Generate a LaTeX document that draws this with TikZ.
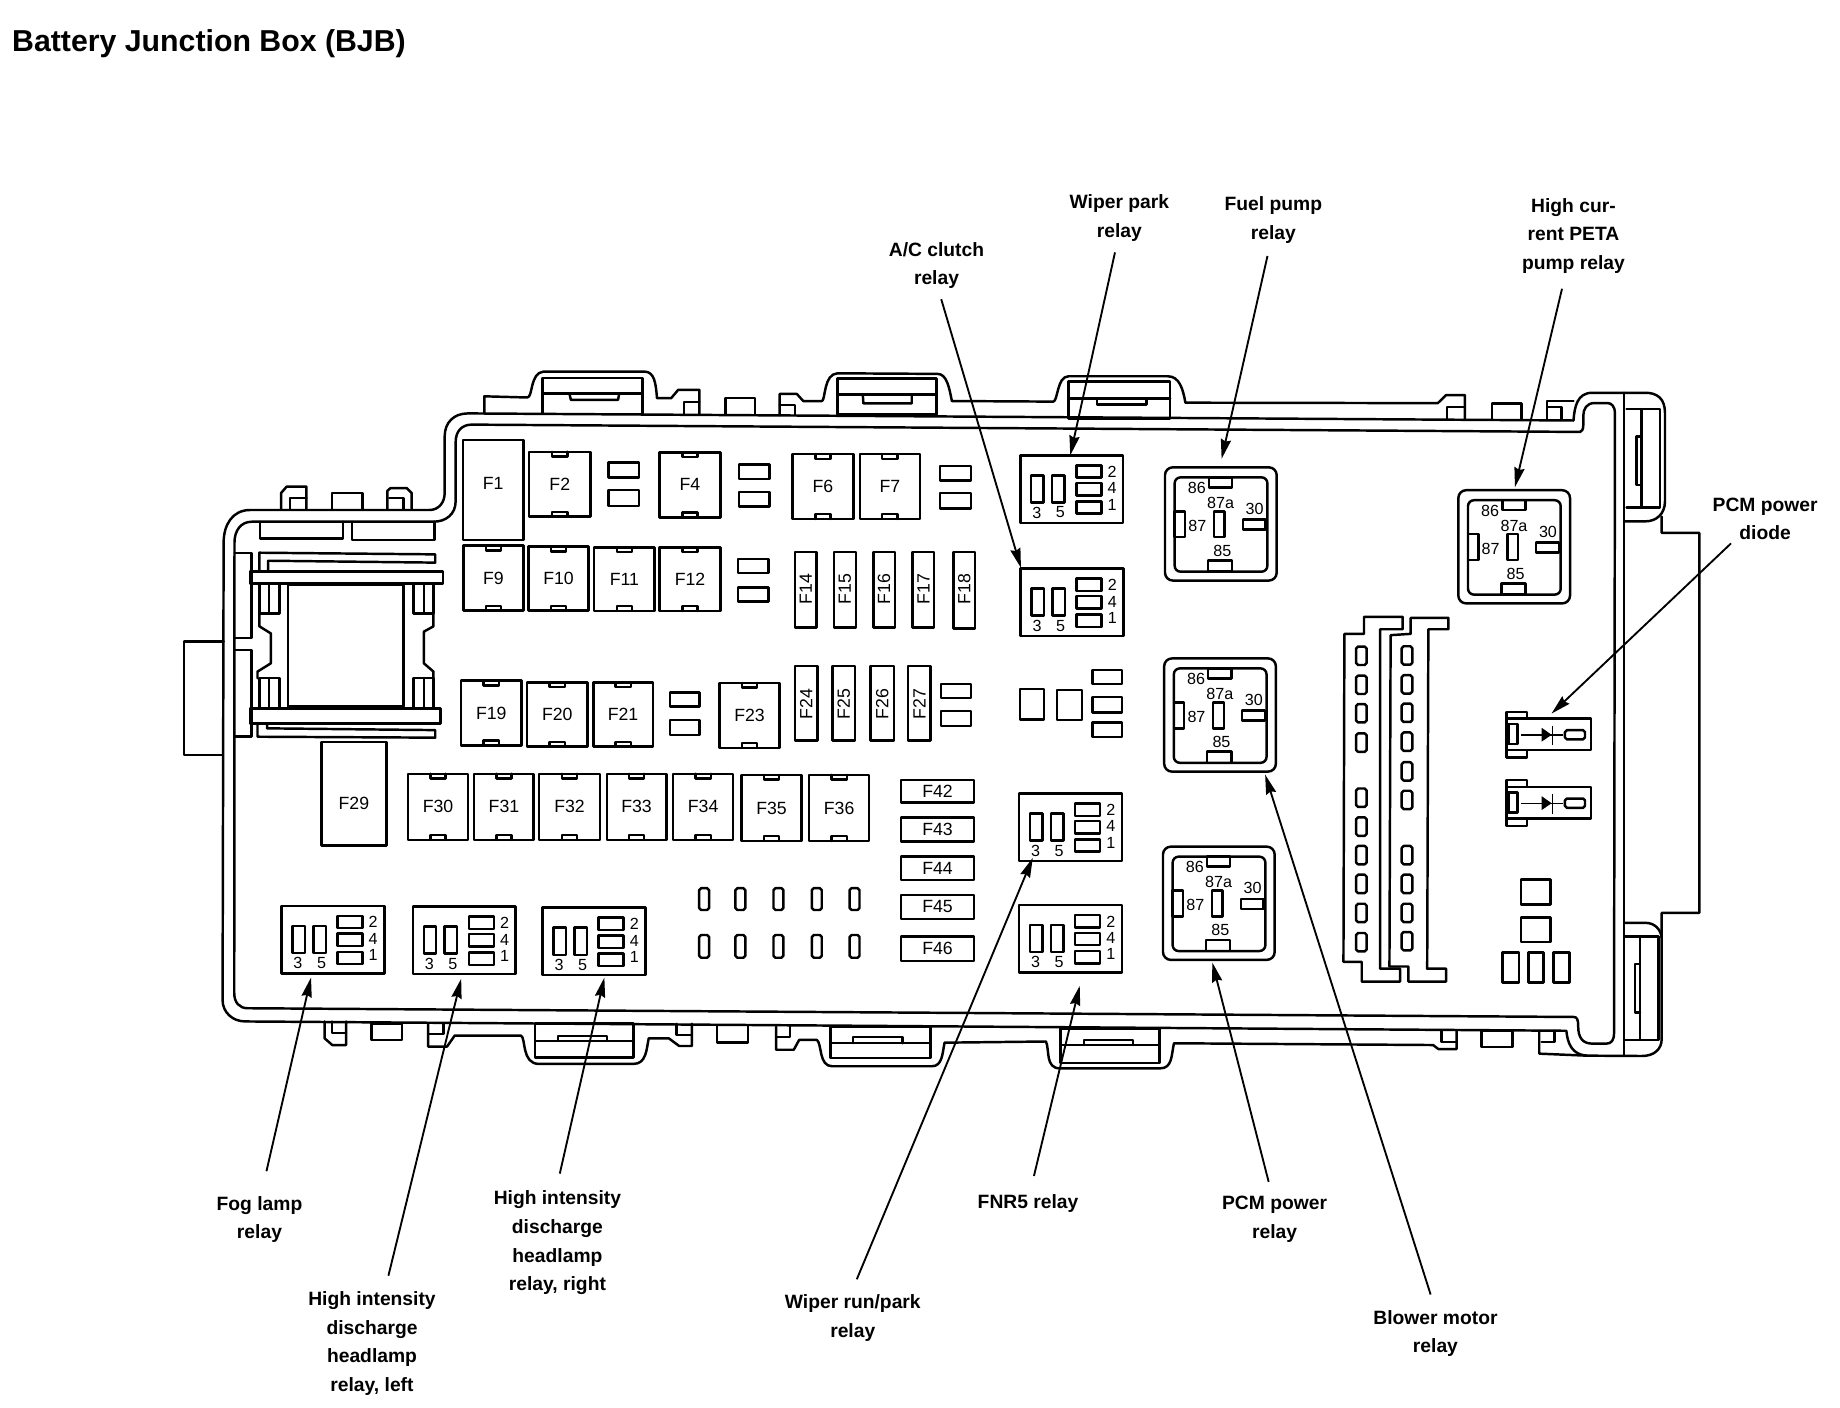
\documentclass[tikz,border=0pt]{standalone}
\usepackage{fontspec}
\setmainfont{Liberation Sans}
\usetikzlibrary{arrows.meta,calc}
\def\UU{0.6}
\tikzset{
  ln/.style={line width=1.25pt,line join=round,line cap=round},
  hair/.style={line width=0.7pt},
  fusebox/.style={draw,ln,inner sep=0pt,outer sep=0pt,font=\fontsize{9}{10}\selectfont},
  plainbox/.style={draw,ln,inner sep=0pt,outer sep=0pt,anchor=north west},
  fuselabel/.style={inner sep=0pt,font=\fontsize{9}{10}\selectfont},
  pinlabel/.style={inner sep=0pt,font=\fontsize{8.2}{9}\selectfont},
  callout/.style={inner sep=0pt,align=center,font=\bfseries\fontsize{9.8}{14.6}\selectfont},
  ptr/.style={line width=0.95pt,-{Stealth[length=10pt,width=5.2pt,inset=1pt]}}
}
% rectangle as a node: name x1 y1 x2 y2 text
\newcommand\FB[6]{%
  \pgfmathsetmacro\fw{(#4-#2)*\UU}\pgfmathsetmacro\fh{(#5-#3)*\UU}%
  \pgfmathsetmacro\fx{(#2+#4)/2}\pgfmathsetmacro\fy{(#3+#5)/2}%
  \node[fusebox,minimum width=\fw pt,minimum height=\fh pt] (#1) at (\fx,\fy) {#6};}
% fuse with two notches
\newcommand\FN[6]{\FB{#1}{#2}{#3}{#4}{#5}{#6}%
  \draw[ln] (\fx-6.5,#3) -- ++(0,4) -- ++(13,0) -- ++(0,-4);
  \draw[ln] (\fx-6.5,#5) -- ++(0,-4) -- ++(13,0) -- ++(0,4);}
% tall fuse, rotated label: name x1 y1 x2 y2 text ylabel
\newcommand\FT[7]{\FB{#1}{#2}{#3}{#4}{#5}{}%
  \node[fuselabel,rotate=90] (#1l) at (\fx,#7) {#6};}
% large fuse with an off-centre label: name x1 y1 x2 y2 text ylabel
\newcommand\FL[7]{\FB{#1}{#2}{#3}{#4}{#5}{}%
  \node[fuselabel] (#1l) at (\fx,#7) {#6};}
\newcommand\SQ[4]{\draw[ln] (#1,#2) rectangle (#3,#4);}
% small relay: name x y
\newcommand\RS[3]{%
  \pgfmathsetmacro\bw{87.2*\UU}\pgfmathsetmacro\bh{57.2*\UU}%
  \node[plainbox,minimum width=\bw pt,minimum height=\bh pt] (#1) at (#2,#3) {};
  \begin{scope}[shift={(#2,#3)}]
    \SQ{9.3}{17}{19.8}{40}\SQ{27}{17}{37.6}{40}
    \SQ{47.5}{8.5}{68.7}{19}\SQ{47.5}{23.5}{68.7}{34}\SQ{47.5}{39}{68.7}{49.5}
    \node[pinlabel] (#1a) at (77.8,14) {2};
    \node[pinlabel] (#1b) at (77.8,28) {4};
    \node[pinlabel] (#1c) at (77.8,41.8) {1};
    \node[pinlabel] (#1d) at (14,48.5) {3};
    \node[pinlabel] (#1e) at (34,48.5) {5};
  \end{scope}}
% big relay: name x y
\newcommand\RB[3]{%
  \pgfmathsetmacro\bw{94.7*\UU}\pgfmathsetmacro\bh{96*\UU}%
  \node[plainbox,rounded corners=4pt,minimum width=\bw pt,minimum height=\bh pt] (#1) at (#2,#3) {};
  \begin{scope}[shift={(#2,#3)}]
    \draw[ln,rounded corners=3pt] (8.2,8.5) rectangle (86.8,88.5);
    \SQ{37.3}{8.5}{57}{17}\SQ{36.4}{79}{57}{88.5}\SQ{8.2}{37.3}{17}{59.3}
    \SQ{41.5}{37.3}{50.5}{59.3}\SQ{66}{44.3}{85.3}{52.8}
    \node[pinlabel] (#1a) at (27,17.5) {86};
    \node[pinlabel] (#1b) at (47.2,30.2) {87a};
    \node[pinlabel] (#1c) at (76,35.3) {30};
    \node[pinlabel] (#1d) at (27.4,49.5) {87};
    \node[pinlabel] (#1e) at (48.6,70.6) {85};
  \end{scope}}
% diode holder: y offset
\newcommand\DI[1]{%
  \begin{scope}[shift={(0,#1)}]
    \draw[ln] (1277.4,603.5) -- (1294.4,603.5) -- (1294.4,609.3) -- (1348.9,609.3) -- (1348.9,635.8) -- (1294.4,635.8) -- (1294.4,642.4) -- (1277.4,642.4) -- cycle;
    \draw[ln] (1277.4,609.3) -- (1294.4,609.3) (1277.4,635.8) -- (1294.4,635.8);
    \SQ{1278.8}{614}{1286.7}{630.7}
    \draw[ln,rounded corners=1pt] (1326.8,619) rectangle (1343.8,626.9);
    \draw[hair] (1289.5,623) -- (1325.4,623) (1316.1,615.2) -- (1316.1,632);
    \fill (1307,617) -- (1315.5,623) -- (1307,628.8) -- cycle;
  \end{scope}}
\begin{document}
\begin{tikzpicture}[x=0.6pt,y=-0.6pt]
\useasboundingbox (0,0) rectangle (1560,1193.7);
\fill[white] (0,0) rectangle (1560,1193.7);
% title
\node[anchor=west,inner sep=0pt,font=\bfseries\fontsize{15.4}{18}\selectfont] (title) at (10,37) {Battery Junction Box (BJB)};

% ---------- housing ----------
\draw[ln] (1334,356.5) -- (396.7,350.5) .. controls (385,350.5) and (377,358) .. (377,370) -- (377,418)
  .. controls (377,426) and (372,432.4) .. (364,432.4) -- (212,432.4)
  .. controls (197,432.4) and (189.6,445) .. (189.6,460) -- (188.7,848)
  .. controls (188.7,858) and (197,866) .. (208,866) -- (1328,873.9)
  .. controls (1329,885) and (1333,894) .. (1345,895);
\draw[ln] (1334,356.5) .. controls (1335,345) and (1337,333) .. (1350,333) -- (1395,333)
  .. controls (1405,333) and (1411.6,338) .. (1411.6,350) -- (1411.6,425)
  .. controls (1411.6,436) and (1404,442) .. (1395,442) -- (1377,442);
\draw[ln] (1408.8,438) -- (1408.8,451.8) -- (1440.7,451.8) -- (1440.7,773.9) -- (1408.8,773.9) -- (1408.8,881)
  .. controls (1408.8,889) and (1403,895.3) .. (1392,895.3) -- (1345,895);
\draw[ln] (1377.7,782.4) -- (1395,782.4) .. controls (1403,782.4) and (1408,788) .. (1408.8,795);
\draw[ln] (1377,333) -- (1377,895);
\draw[ln] (1339.6,366.2) -- (400,360) .. controls (392,360) and (386.3,365) .. (386.3,375) -- (386.3,425)
  .. controls (386.3,436) and (378,442.3) .. (367.5,442.3) -- (213.6,442.3)
  .. controls (204,442.3) and (198.8,450) .. (198.8,460) -- (198.6,842)
  .. controls (198.6,850) and (203,854.8) .. (210,854.8) -- (1334,862.2)
  .. controls (1337,862.2) and (1338,864) .. (1338,870) .. controls (1338,880) and (1342,884.8) .. (1350,884.8)
  -- (1362,884.8) .. controls (1366,884.8) and (1368.4,882) .. (1368.4,876) -- (1369.2,350)
  .. controls (1369.2,345) and (1366.4,341.7) .. (1363,341.7) -- (1352,341.7)
  .. controls (1345,341.7) and (1342.4,347) .. (1342.4,352) -- (1342.4,360)
  .. controls (1342.4,364) and (1341,366.2) .. (1339.6,366.2) -- cycle;
% left external box
\draw[ln] (189.6,544) -- (156,544) -- (156,640) -- (189,640);
% right pods
\draw[ln] (1379,346.8) -- (1407.4,346.8) -- (1407.4,430.4) -- (1379,430.4) (1391.8,346.8) -- (1391.8,430.4);
\draw[ln] (1391.8,370) -- (1387.6,370) -- (1387.6,411) -- (1391.8,411);
\draw[ln] (1377.7,794) -- (1406,794) -- (1406,881.6) -- (1377.7,881.6) (1390.4,794) -- (1390.4,881.6);
\draw[ln] (1390.4,817.5) -- (1386,817.5) -- (1386,858.3) -- (1390.4,858.3);

% ---------- top profile ----------
\draw[ln] (410.6,350.5) -- (410.6,336) -- (447,337) .. controls (452,337) and (449,316) .. (461,315) -- (546,315)
  .. controls (555,315) and (556,325) .. (557,337.6) -- (569,337.6) -- (575,330.5) -- (593,330.5) -- (593,351);
\draw[ln] (580,351) -- (580,341) -- (593,341);
\SQ{460}{320.7}{544.6}{351}\draw[ln] (460,333.5) -- (544.6,333.5);
\draw[ln] (482.7,333.5) -- (484,339) -- (524,339) -- (525,333.5);
\draw[ln] (615,351.5) -- (615,337.5) -- (640,337.5) -- (640,351.5);
\draw[ln] (661,352) -- (661,334) -- (675.6,334) -- (681,340) -- (696.7,340) .. controls (700,340) and (698,317) .. (710,316.5)
  -- (795,317) .. controls (803,317) and (805,330) .. (807,340) -- (893,340.5) .. controls (897,340) and (896,319) .. (906,319)
  -- (990,319) .. controls (1000,319) and (1003,330) .. (1005,341.4) -- (1219,341.8) -- (1226,335) -- (1242,335) -- (1242,356);
\draw[ln] (661,343.5) -- (674,343.5) -- (674,352);
\SQ{710}{321}{794}{351.5}\draw[ln] (710,334.6) -- (794,334.6);
\draw[ln] (731.5,334.6) -- (732,342) -- (773,342) -- (773,334.6);
\SQ{906}{323.6}{992}{355}\draw[ln] (906,338) -- (992,338);
\draw[ln] (930,338) -- (930,343) -- (972,343) -- (972,338);
\draw[ln] (1227,355.5) -- (1227,345) -- (1241,345);
\draw[ln] (1265,356) -- (1265,342) -- (1290,342) -- (1290,356);
\draw[ln] (1311.6,356) -- (1311.6,340) -- (1334,340);
\draw[ln] (1312,345) -- (1324,345) -- (1324,356);
% top-left tabs
\draw[ln] (238.3,432) -- (238.3,418) -- (243,412.6) -- (259.8,412.6) -- (259.8,432);
\draw[ln] (246,432) -- (246,422) -- (259.8,422);
\draw[ln] (281.6,432) -- (281.6,418) -- (307.4,418) -- (307.4,432);
\draw[ln] (328.5,432) -- (328.5,416) -- (331,413.9) -- (345,413.9) -- (349,418) -- (349,432);
\draw[ln] (330,422) -- (342,422) -- (342,432);
\draw[ln] (220.5,442.3) -- (220.5,456.5) -- (291,456.5) -- (291,442.3);
\draw[ln] (298.5,442.3) -- (298.5,458) -- (368.5,458) -- (368.5,442.3);

% ---------- bottom profile ----------
\draw[ln] (275.2,866) -- (275.2,880.3) -- (281.7,886) -- (293.4,886) -- (293.4,866);
\draw[ln] (281.7,866) -- (281.7,876) -- (293.4,876);
\SQ{315}{867.6}{340.9}{881.7}
\draw[ln] (363,867.6) -- (363,887.3) -- (379,887.3) -- (385.5,878) -- (441.7,878) .. controls (446,880) and (442,902) .. (457,902)
  -- (537,902) .. controls (548,902) and (548,890) .. (550,880.3) -- (567,880.3) -- (575.8,886.8) -- (586.6,886.8) -- (586.6,868);
\draw[ln] (363,876.6) -- (376,876.6) -- (376,867.6);
\SQ{453.8}{867.6}{537}{896.4}\draw[ln] (453.8,882.5) -- (537,882.5);
\draw[ln] (473,882.5) -- (473,878.3) -- (514.4,878.3) -- (514.4,882.5);
\draw[ln] (573.7,868) -- (573.7,877.5) -- (586.6,877.5);
\SQ{608}{869}{634}{884}
\draw[ln] (658,870.4) -- (658,890) -- (673,890) -- (677.5,881.7) -- (692.6,881.7) .. controls (697,885) and (694,904) .. (705.6,904)
  -- (790,904) .. controls (799,904) and (799,893) .. (800.8,884) -- (886.8,883) .. controls (890,890) and (886,905.8) .. (898.7,905.8)
  -- (983.4,905.8) .. controls (994,905.8) and (993,895) .. (995.3,884.5) -- (1215,886) -- (1219.5,889.4) -- (1235,889.4) -- (1235,873.9);
\draw[ln] (658,879) -- (669.7,879) -- (669.7,870.4);
\SQ{704.3}{870.4}{788.7}{897.2}\draw[ln] (704.3,884.5) -- (788.7,884.5);
\draw[ln] (723,884.5) -- (723,879.4) -- (765,879.4) -- (765,884.5);
\SQ{899.2}{871.8}{982.9}{901}\draw[ln] (899.2,886) -- (982.9,886);
\draw[ln] (919,886) -- (919,881.7) -- (960.8,881.7) -- (960.8,886);
\draw[ln] (1222,874) -- (1222,883.6) -- (1234,883.6);
\SQ{1256.2}{874}{1282.5}{887.5}
\draw[ln] (1305,874) -- (1305,893.3) -- (1345,895);
\draw[ln] (1307,883.6) -- (1318,883.6) -- (1318,874);

% ---------- left frame ----------
\draw[ln] (198.8,469) -- (213.4,469) -- (213.4,541) -- (198.8,541);
\draw[ln] (198.8,551) -- (213.4,551) -- (213.4,624.6) -- (198.8,624.6);
\draw[ln] (219.9,484) -- (219.9,468.6) -- (369,470) -- (369,477) -- (227.4,475.4) -- (227.4,484);
\SQ{211.8}{484.7}{375.7}{494.6}
\SQ{244.2}{496}{342.2}{599}
\SQ{211.8}{600.5}{373.4}{613.3}
\draw[ln] (218.3,613.3) -- (218.3,624.6) -- (369,625.4) -- (369,619) -- (226.4,617.5) -- (226.4,613.3);
\SQ{219.9}{494.6}{237}{520}\draw[ln] (228,494.6) -- (228,520);
\SQ{219.9}{575}{237}{600.5}\draw[ln] (228,575) -- (228,600.5);
\SQ{350.7}{494.6}{367.5}{520}\draw[ln] (359.4,494.6) -- (359.4,520);
\SQ{350.7}{575}{367.5}{600.5}\draw[ln] (359.4,575) -- (359.4,600.5);
\draw[ln] (219.9,520) -- (219.9,531) -- (229.6,537) -- (229.6,562.4) -- (218.3,569.4) -- (218.3,575);
\draw[ln] (367.5,520) -- (367.5,531) -- (359.4,535.5) -- (359.4,562.4) -- (367.5,569.4) -- (367.5,575);

% ---------- fuses ----------
\FL{F1}{392.5}{373}{443.8}{458}{F1}{410}
\FN{F2}{448.6}{383}{500.6}{438}{F2}
\SQ{516}{392}{541.8}{404.7}\SQ{516}{415.4}{541.8}{429}
\FN{F4}{559}{383.5}{611}{438.6}{F4}
\SQ{626.5}{393.7}{652.5}{406}\SQ{626.5}{417}{652.5}{429.6}
\FN{F6}{672}{385}{723.5}{440}{F6}
\FN{F7}{729}{385}{780}{440}{F7}
\SQ{797}{395}{823}{407.5}\SQ{797}{418}{823}{431}
\FN{F9}{392.9}{462.6}{443.8}{517.7}{F9}
\FN{F10}{448}{463.5}{499}{517.7}{F10}
\FN{F11}{503.8}{464}{555}{518}{F11}
\FN{F12}{559}{464}{611}{518}{F12}
\SQ{625.5}{474}{651.5}{486}\SQ{625.5}{498}{651.5}{510}
\FT{F14}{674}{468}{692.4}{532}{F14}{499.4}
\FT{F15}{707}{468}{725.7}{532}{F15}{499.4}
\FT{F16}{740.4}{468}{758.8}{532}{F16}{499.4}
\FT{F17}{773.8}{468}{792}{532}{F17}{499.4}
\FT{F18}{808.3}{468}{826.6}{533}{F18}{499.4}
\FN{F19}{391}{577}{442}{632}{F19}
\FN{F20}{447}{578.5}{498}{633}{F20}
\FN{F21}{503}{578.5}{553.5}{633}{F21}
\SQ{568}{587}{593}{599}\SQ{568}{610.4}{593}{623}
\FN{F23}{610}{579}{661}{634}{F23}
\FT{F24}{674}{564.6}{693}{628}{F24}{597}
\FT{F25}{705.7}{564.6}{725}{628}{F25}{597}
\FT{F26}{738}{564.6}{758}{628}{F26}{597}
\FT{F27}{770}{564.6}{789}{628}{F27}{597}
\SQ{798}{580}{823}{592}\SQ{798}{603}{823}{615.5}
\FL{F29}{272.5}{629}{327.6}{717}{F29}{681.5}
\FN{F30}{345.7}{656}{397}{712}{F30}
\FN{F31}{402}{656}{452.5}{712}{F31}
\FN{F32}{457}{656}{508.7}{712}{F32}
\FN{F33}{514.4}{656}{565}{712}{F33}
\FN{F34}{570.7}{656}{621.6}{712}{F34}
\FN{F35}{628.6}{657}{679.6}{713}{F35}
\FN{F36}{686}{657}{736.8}{713}{F36}
\FB{F42}{763.9}{661.3}{825.8}{680.5}{F42}
\FB{F43}{763.9}{693}{825.8}{713.6}{F43}
\FB{F44}{763.9}{726}{825.8}{746}{F44}
\FB{F45}{763.9}{758.7}{825.8}{779}{F45}
\FB{F46}{763.9}{794}{825.8}{814.6}{F46}
\foreach \px in {597,627.7,660,692.5,724.5}{
  \draw[ln,rounded corners=1pt] (\px-4.2,753) rectangle (\px+4.2,771.5);
  \draw[ln,rounded corners=1pt] (\px-4.2,792.7) rectangle (\px+4.2,812);
}

% ---------- relays ----------
\RS{wiperpark}{865}{386}
\RS{acclutch}{865.3}{482}
\RS{wiperrun}{864}{672.6}
\RS{fnrfive}{864}{767.3}
\RS{foglamp}{238.6}{768}
\RS{hidleft}{350}{768.5}
\RS{hidright}{460}{769.5}
\RB{fuelpump}{987.7}{396.2}
\RB{blower}{987}{558.2}
\RB{pcmpower}{986}{717.8}
\RB{highcur}{1236.4}{415.6}
% empty relay place
\SQ{864.7}{584.3}{885}{610}\SQ{896}{585}{917.3}{610.5}
\SQ{926.3}{568}{951.4}{580}\SQ{926.3}{591}{951.4}{604}\SQ{926.3}{612.7}{951.4}{625}

% ---------- connector combs ----------
\draw[ln] (1156.4,537.4) -- (1139.8,537.4) -- (1139,815.5) -- (1154.5,815.5) -- (1154.5,832.2) -- (1187,832.2) -- (1187,821.3) -- (1170,821.3) -- (1170,533.5) -- (1189.2,533.5) -- (1189.2,523) -- (1156.4,523) -- cycle;
\draw[ln] (1196,537.4) -- (1179,538.5) -- (1178,819.4) -- (1194,819.4) -- (1194,832.2) -- (1226,832.2) -- (1226,821.3) -- (1210,821.3) -- (1211,533.5) -- (1228,533.5) -- (1228,523.8) -- (1196,523.8) -- cycle;
\foreach \py in {556,580.6,604.7,629.6,676.3,700.8,725,749.4,774,798.8}{
  \draw[ln,rounded corners=1pt] (1149.7,\py-7.8) rectangle (1158.7,\py+7.8);}
\foreach \py in {555.7,580.2,604.3,628.8,654,678.2,725,749.4,774,798}{
  \draw[ln,rounded corners=1pt] (1188.4,\py-7.8) rectangle (1197.4,\py+7.8);}

% ---------- diodes and small parts ----------
\DI{0}
\DI{58}
\SQ{1289.3}{745.5}{1314.7}{766.9}\SQ{1289.3}{777.8}{1314.7}{798.8}
\SQ{1274}{807.7}{1287.6}{833}\SQ{1295.8}{807.7}{1308.5}{833}\SQ{1317}{807.7}{1330.5}{833}

% ---------- callouts ----------
\node[callout] (lwiperpark) at (949,185) {Wiper park\\relay};
\node[callout] (lfuelpump) at (1079.6,186.5) {Fuel pump\\relay};
\node[callout] (lacclutch) at (794,225) {A/C clutch\\relay};
\node[callout] (lhighcur) at (1334,200) {High cur-\\rent PETA\\pump relay};
\node[callout] (ldiode) at (1496.5,440) {PCM power\\diode};
\node[callout] (lfog) at (220,1034) {Fog lamp\\relay};
\node[callout] (lhidl) at (315.4,1139) {High intensity\\discharge\\headlamp\\relay, left};
\node[callout] (lhidr) at (472.6,1053.7) {High intensity\\discharge\\headlamp\\relay, right};
\node[callout] (lwiperrun) at (723,1117.5) {Wiper run/park\\relay};
\node[callout] (lfnr) at (871.6,1020.5) {FNR5 relay};
\node[callout] (lpcm) at (1080.6,1034) {PCM power\\relay};
\node[callout] (lblower) at (1217,1130.5) {Blower motor\\relay};

\coordinate (s1) at (945.3,214);
\coordinate (s2) at (1074.6,217);
\coordinate (s3) at (798,253.7);
\coordinate (s4) at (1324.3,244.8);
\coordinate (s5) at (1467.6,460.7);
\coordinate (s6) at (1212.9,1097.5);
\coordinate (s7) at (1075.6,1002);
\coordinate (s8) at (876.6,997);
\coordinate (s9) at (726.4,1084.6);
\coordinate (s10) at (474.6,995);
\coordinate (s11) at (329.3,1081.6);
\coordinate (s12) at (225.9,993);
\coordinate (diodetip) at (1315.4,605);
\draw[ptr] (s1) -- ($(wiperpark.north west)+(42.4,0)$);
\draw[ptr] (s2) -- ($(fuelpump.north west)+(48,-7.2)$);
\draw[ptr] (s3) -- ($(acclutch.north west)+(0.3,-0.5)$);
\draw[ptr] (s4) -- ($(highcur.north west)+(48,-2.6)$);
\draw[ptr] (s5) -- (diodetip);
\draw[ptr] (s6) -- ($(blower.north west)+(85.6,98.5)$);
\draw[ptr] (s7) -- ($(pcmpower.north west)+(41.8,98.2)$);
\draw[ptr] (s8) -- ($(fnrfive.north west)+(51.4,68.5)$);
\draw[ptr] (s9) -- ($(wiperrun.north west)+(11.6,54.7)$);
\draw[ptr] (s10) -- ($(hidright.north west)+(52.4,59.3)$);
\draw[ptr] (s11) -- ($(hidleft.north west)+(41,61.3)$);
\draw[ptr] (s12) -- ($(foglamp.north west)+(25.1,60.8)$);
\end{tikzpicture}
\end{document}
